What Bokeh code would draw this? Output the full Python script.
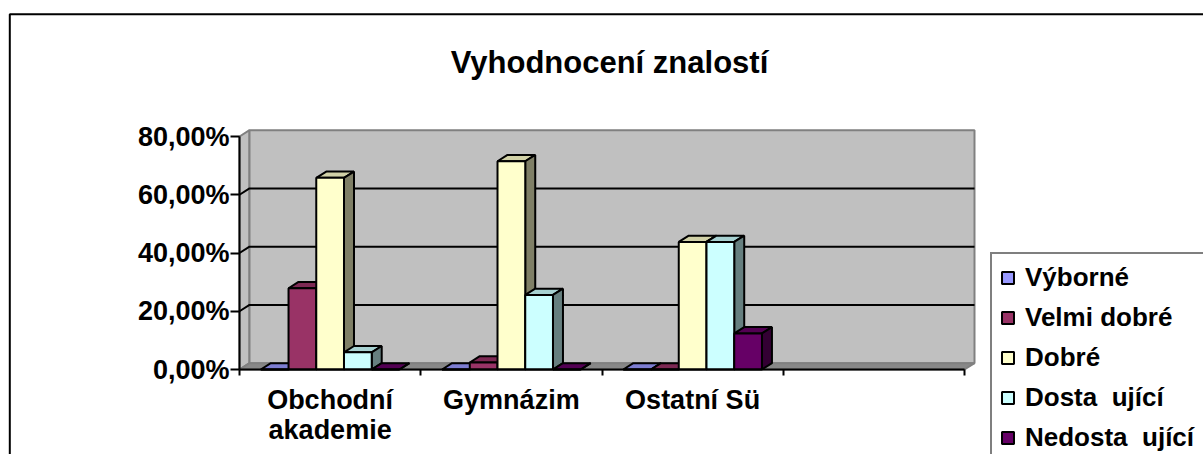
from bokeh.plotting import figure
from bokeh.models import (Range1d, FixedTicker, CustomJSTickFormatter, Legend, LegendItem)
from bokeh.core.properties import value
from bokeh.embed import file_html
from bokeh.resources import INLINE

# ---------------- data ----------------
title_text = "Vyhodnocení znalostí"
categories = ["Obchodní\nakademie", "Gymnázim", "Ostatní Sü", ""]
series_names = ["Výborné", "Velmi dobré", "Dobré", "Dosta  ující", "Nedosta  ující"]
vyborne = [0.0, 0.0, 0.0]
velmi_dobre = [0.279, 0.024, 0.0]
dobre = [0.658, 0.715, 0.438]
dostatecne = [0.059, 0.256, 0.438]
nedostatecne = [0.0, 0.0, 0.124]
y_ticks = [0.0, 0.2, 0.4, 0.6, 0.8]
series_colors = ["#9999FF", "#993366", "#FFFFCC", "#CCFFFF", "#660066"]

series_values = [vyborne, velmi_dobre, dobre, dostatecne, nedostatecne]

# ---------------- geometry / style ----------------
W, H = 1203, 454
N_SLOTS = len(categories)
Y_MAX = y_ticks[-1]
PX_PER_CAT = 181.25          # screen px per category slot
PX_PER_UNIT = 291.25         # screen px per 100 %
X0_PX, Y0_PX = 239, 369      # canvas position of the axes origin
DX = 10 / PX_PER_CAT         # 3D depth (category units)
DY = 6.3 / PX_PER_UNIT       # 3D depth (value units)
BAR_W = 0.153
GROUP_OFF = (1 - len(series_values) * BAR_W) / 2
FONT = "Liberation Sans"


def sx(px):
    return (px - X0_PX) / PX_PER_CAT


def sy(py):
    return (Y0_PX - py) / PX_PER_UNIT


def shade(hexcol, f):
    r, g, b = (int(hexcol[i:i + 2], 16) for i in (1, 3, 5))
    return "#%02x%02x%02x" % (int(r * f), int(g * f), int(b * f))


p = figure(width=W, height=H, output_backend="svg", toolbar_location=None,
           x_range=Range1d(sx(0), sx(W)), y_range=Range1d(sy(H), sy(0)),
           min_border=0, min_border_left=0, min_border_right=0,
           min_border_top=0, min_border_bottom=0,
           background_fill_color="white", border_fill_color="white",
           outline_line_color=None)
p.title.visible = False
p.grid.visible = False

# chart border (top and left edges visible)
p.line([sx(9.3), sx(9.3), sx(W + 5)], [sy(H + 5), sy(13.7), sy(13.7)],
       line_color="black", line_width=2)

# title
p.text(x=[sx(609)], y=[sy(62)], text=[title_text], text_align="center",
       text_baseline="alphabetic", text_font=value(FONT), text_font_style="bold",
       text_font_size="31px", text_color="black")

# walls and floor
wall_grey = "#c0c0c0"
edge_grey = "#808080"
p.patch([0, DX, DX, 0], [0, DY, Y_MAX + DY, Y_MAX], fill_color=wall_grey,
        line_color=edge_grey, line_width=2)
p.patch([DX, N_SLOTS + DX, N_SLOTS + DX, DX], [DY, DY, Y_MAX + DY, Y_MAX + DY],
        fill_color=wall_grey, line_color=edge_grey, line_width=2)
p.patch([0, N_SLOTS, N_SLOTS + DX, DX], [0, 0, DY, DY], fill_color="#888888",
        line_color=edge_grey, line_width=2)

# gridlines (left wall + back wall)
gx, gy = [], []
for v in y_ticks[1:-1]:
    gx.append([0, DX, N_SLOTS + DX])
    gy.append([v, v + DY, v + DY])
p.multi_line(gx, gy, line_color="black", line_width=2)

# bars
legend_items = []
for s, (name, vals, col) in enumerate(zip(series_names, series_values, series_colors)):
    fx, fy, tx, ty, qx, qy = [], [], [], [], [], []
    for c, h in enumerate(vals):
        x0 = c + GROUP_OFF + s * BAR_W
        x1 = x0 + BAR_W
        fx.append([x0, x1, x1, x0]); fy.append([0, 0, h, h])
        tx.append([x0, x1, x1 + DX, x0 + DX]); ty.append([h, h, h + DY, h + DY])
        qx.append([x1, x1 + DX, x1 + DX, x1]); qy.append([0, DY, h + DY, h])
    p.patches(tx, ty, fill_color=shade(col, 0.82), line_color="black", line_width=2)
    p.patches(qx, qy, fill_color=shade(col, 0.5), line_color="black", line_width=2)
    r = p.patches(fx, fy, fill_color=col, line_color="black", line_width=2)
    legend_items.append(LegendItem(label=name, renderers=[r]))

# y axis (drawn at x = 0 inside the frame)
ya = p.yaxis[0]
ya.fixed_location = 0
ya.ticker = FixedTicker(ticks=y_ticks)
ya.bounds = (0, Y_MAX)
ya.formatter = CustomJSTickFormatter(
    code="return (tick*100).toFixed(2).replace('.', ',') + '%';")
ya.axis_line_width = 2
ya.major_tick_line_width = 2
ya.major_tick_out = 9
ya.major_tick_in = 0
ya.minor_tick_line_color = None
ya.major_label_standoff = 1
ya.major_label_text_font = FONT
ya.major_label_text_font_style = "bold"
ya.major_label_text_font_size = "27px"
ya.major_label_text_color = "black"

# x axis (drawn at y = 0 inside the frame)
xa = p.xaxis[0]
xa.fixed_location = 0
xa.ticker = FixedTicker(ticks=[i + 0.5 for i in range(N_SLOTS)],
                        minor_ticks=list(range(N_SLOTS + 1)))
xa.bounds = (0, N_SLOTS)
xa.formatter = CustomJSTickFormatter(
    args=dict(cats=categories),
    code="const i = Math.floor(tick); return (i >= 0 && i < cats.length) ? cats[i] : '';")
xa.axis_line_width = 2
xa.major_tick_line_color = None
xa.major_tick_out = 0
xa.major_tick_in = 0
xa.minor_tick_line_color = "black"
xa.minor_tick_line_width = 2
xa.minor_tick_out = 6
xa.minor_tick_in = 0
xa.major_label_standoff = 9
xa.major_label_text_font = FONT
xa.major_label_text_font_style = "bold"
xa.major_label_text_font_size = "27px"
xa.major_label_text_line_height = 1.0
xa.major_label_text_color = "black"

# legend (top edge near y = 253; extends past the right and bottom edges)
legend = Legend(items=legend_items, location=(990, -9), margin=0,
                border_line_color="black", border_line_width=2,
                background_fill_color="white", background_fill_alpha=1.0,
                padding=8, spacing=9, label_height=30, label_width=190,
                glyph_width=15, glyph_height=15, label_standoff=10,
                label_text_font=FONT, label_text_font_style="bold",
                label_text_font_size="26px", label_text_color="black")
p.add_layout(legend, "center")

open("out.html", "w").write(file_html(p, INLINE))
